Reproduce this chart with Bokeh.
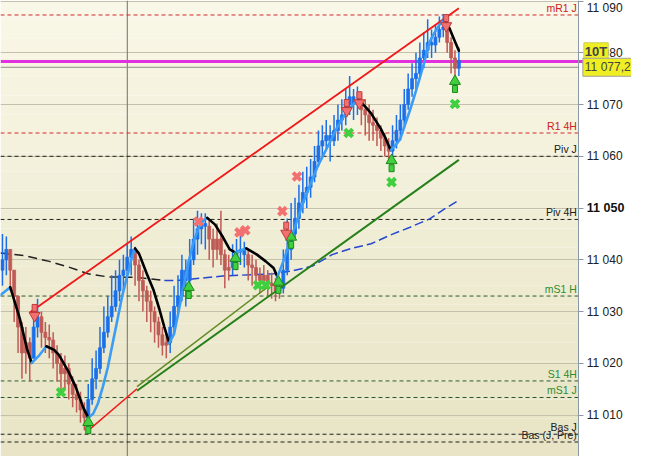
import numpy as np
from bokeh.plotting import figure
from bokeh.models import Range1d, FixedTicker, Label
from bokeh.core.properties import value
from bokeh.embed import file_html
from bokeh.resources import INLINE

BASE = 11000.0  # all price lists below are (price - 11000)

# ---- price bars (one per bar index) ----
HIGH = [45, 44.5, 42, 38, 33, 28, 27, 25, 31, 32.5,
        30, 28, 27.5, 26, 23.5, 22, 21.5, 20, 17.5, 16,
        14.5, 12.5, 16, 21, 22.5, 27, 31, 33, 37, 38,
        40, 41, 43, 44.5, 42.5, 40, 38, 35, 34, 31,
        29, 27, 26, 30, 35, 37, 41, 40, 44, 48,
        49.5, 49, 49, 48, 46, 47, 49.5, 42, 41, 43,
        44, 45, 43.5, 42, 41, 40, 38.5, 39, 38, 37.5,
        36.5, 36, 42, 48, 51, 52, 54.5, 57, 58, 59.5,
        62, 65, 66, 67, 66, 68, 70, 71, 73, 75.5,
        73, 73.5, 72, 71, 70, 69, 67.5, 66, 64.5, 63.5,
        66, 68, 70, 73, 76, 78, 80, 82, 84, 86.5,
        84.5, 85.5, 87, 87.5, 86.5, 83, 80.5, 81]
LOW = [35, 37, 34, 28, 22, 17, 18, 16.5, 21, 25,
       23, 22, 21, 19, 16.5, 14.5, 15, 13, 11.5, 10.5,
       8.5, 7, 8, 12, 15, 18, 22, 25, 28, 30,
       32, 34, 36, 37, 35, 32, 30, 28, 26, 24,
       23, 21.5, 21, 22, 26, 29, 32, 31, 35, 39,
       41, 43, 42, 40, 38.5, 40, 39, 34.5, 36, 37,
       38, 39, 38.5, 36, 35, 34.5, 33.5, 34, 33, 32.5,
       32, 32.5, 33.5, 37, 40, 44, 46, 49, 50, 52,
       55, 58, 60, 61, 59, 62, 63, 65, 66, 68,
       67, 68, 66, 64, 63, 63, 62, 61, 60, 59,
       60, 61.5, 63, 66, 69, 71.5, 73, 75, 77, 79,
       79, 80, 82, 83, 80, 76, 74.5, 75.5]
CLOSE = [40, 42, 38, 33, 27, 22, 24, 21, 27, 29,
         26, 25, 24.5, 22, 20, 18, 19, 16, 14, 13,
         11, 9.5, 13, 17, 19, 23, 26, 29, 31, 34,
         37, 38, 40.5, 42, 39, 36, 34, 32, 30, 28,
         25.5, 23.5, 24, 27, 31, 33, 38, 36, 40, 44,
         46, 47, 46.5, 44, 42, 44, 41, 38, 38.5, 40,
         41.5, 42, 41, 39, 38.5, 37, 36, 37, 35.5, 35,
         34, 34.5, 38, 42, 45, 48, 51, 53, 54, 56,
         59, 62, 63, 64, 63, 65, 67, 68, 70, 71.5,
         70, 71, 69, 68, 66.5, 66, 65, 63.5, 62, 61,
         63, 65, 67, 70, 73, 75, 76, 79, 80.5, 82,
         81.5, 83, 84.5, 85, 82, 79, 77, 78.5]
FIRST_OPEN = 38
LEG_DIRS = ["u", "d", "u", "d", "u", "d", "u", "d", "u", "d", "u", "d", "u", "d", "u"]
LEG_LENGTHS = [2, 6, 2, 12, 12, 9, 10, 6, 4, 9, 20, 8, 14, 3, 1]

# ---- trend moving average (black = down, light blue = up) ----
MA_X = [[-0.5, 2],
        [2, 4.5, 6.25, 7.5],
        [7.5, 9.5, 11.25],
        [11.25, 13.25, 14.5, 17, 18.75, 20.75, 22],
        [22, 23.25, 24.5, 25.75, 27, 28.25, 29.5, 30.75, 32, 33.25, 34],
        [34, 35, 37, 38.75, 40.25, 41.5, 42.75],
        [42.75, 44, 45.25, 46.5, 47.75, 49, 50.25, 51.5, 52.5],
        [52.5, 54.5, 56.5, 58.25, 59.75],
        [59.75, 61, 62.5],
        [62.5, 65.25, 67.5, 69.5, 70.5],
        [70.5, 72, 73.25, 74.5, 75.75, 77, 79, 80.75, 83.25, 85.75, 88.25, 90.75, 91.25],
        [91.25, 93, 94.5, 95.75, 97, 98.25, 99.5],
        [99.5, 100.75, 102, 103.25, 104.5, 105.75, 107, 108.25, 109.5, 110.75, 112, 113.25],
        [113.25, 114.5, 115.75, 117]]
MA_Y = [[33.2, 34.7],
        [34.7, 28.5, 22.9, 20.1],
        [20.1, 21.6, 23.3],
        [23.3, 22.6, 21.6, 18.3, 15.5, 11.4, 9.5],
        [9.5, 10.25, 12.3, 15.5, 19.2, 23.9, 28.5, 33.2, 36.9, 40.7, 42.2],
        [42.2, 41.2, 37.3, 34.1, 30.4, 27.0, 23.9],
        [23.9, 25.7, 30.4, 35.1, 39.7, 43.5, 46.1, 47.6, 48.1],
        [48.1, 46.8, 44.4, 42.0, 41.4],
        [41.4, 41.8, 42.2],
        [42.2, 41.0, 39.7, 38.4, 36.7],
        [36.7, 39.7, 42.5, 45.3, 48.1, 50.9, 54.7, 58.0, 61.7, 65.5, 68.6, 70.7, 70.9],
        [70.9, 69.6, 68.3, 66.8, 65.3, 63.4, 61.2],
        [61.2, 62.1, 63.4, 66.2, 69.0, 72.0, 75.2, 78.5, 82.1, 83.9, 85.4, 86.4],
        [86.4, 84.9, 82.6, 80.4]]
MA_KIND = ["u", "d", "u", "d", "u", "d", "u", "d", "u", "d", "u", "d", "u", "d"]

# ---- long moving average (dashed) ----
LMA_BLACK_X = [-0.5, 5.75, 12, 17, 22, 27, 34.5, 41.5]
LMA_BLACK_Y = [41.3, 40.8, 39.7, 38.6, 37.3, 36.7, 36.6, 36.0]
LMA_BLUE_X = [41.5, 44.5, 57, 69.5, 74.5, 79.5, 84.5, 89.5, 94.5, 99.5, 104.5, 109.5, 113.25, 117]
LMA_BLUE_Y = [36.0, 36.0, 36.9, 37.3, 37.9, 38.8, 41.0, 42.2, 43.1, 44.8, 46.3, 47.9, 49.8, 51.5]

# ---- trend lines ----
TL_RED_X, TL_RED_Y = [7, 117], [29.8, 88.6]
TL_RED2_X, TL_RED2_Y = [21.5, 34.5], [6.7, 15.1]
TL_OLIVE_X, TL_OLIVE_Y = [34.5, 68.25], [15.5, 34.9]
TL_GREEN_X, TL_GREEN_Y = [34.5, 117], [14.7, 59.3]

# ---- signals ----
BUY_ARROW_X = [22, 47.75, 59.75, 70.75, 74, 99.75, 116]
BUY_ARROW_Y = [7.8, 33.9, 39.5, 34.9, 43.6, 58.4, 73.7]
GREEN_X_X = [15, 65.5, 67.5, 88.75, 99.75, 116]
GREEN_X_Y = [14.4, 35.1, 35.1, 64.5, 55.0, 70.1]
RED_X_X = [50.25, 60.75, 62.25, 71.75, 75.5]
RED_X_Y = [47.4, 45.3, 45.7, 49.4, 56.1]
SELL_ARROW_X = [8.25, 72.75, 88.25, 91.5, 113.75]
SELL_ARROW_Y = [30.0, 45.9, 69.6, 71.1, 86.0]

# ---- levels ----
LEVEL_NAMES = ["mR1 J", "R1 4H", "Piv J", "Piv 4H", "mS1 H", "S1 4H", "mS1 J", "Bas J", "Bas (J, Pre)"]
LEVEL_VALUES = [87.3, 64.5, 60.0, 47.8, 33.0, 16.6, 13.4, 6.3, 4.8]
LEVEL_KIND = ["r", "r", "k", "k", "g", "g", "g", "k", "k"]
MAGENTA_LEVEL = 78.3
LAST_PRICE = 77.2
LAST_PRICE_TEXT = "11 077,2"
TIMEFRAME_TEXT = "10T"
TIMEFRAME_Y = 80.3
SESSION_BREAK_X = 32

TICKS = [11010, 11020, 11030, 11040, 11050, 11060, 11070, 11080, 11090]
TICK_LABELS = ["11 010", "11 020", "11 030", "11 040", "11 050", "11 060", "11 070", "11 080", "11 090"]
BOLD_TICK = 11050

# ================= drawing =================
FONT = "Liberation Sans"
W, H = 631, 456
X0, X1 = -0.5, 147.75               # price pane
AXIS_FRAC = 593.0 / 647.0           # price pane share of the width
X_END = X0 + (X1 - X0) / AXIS_FRAC  # includes the price-scale strip
Y0, Y1 = 11002.0, 11090.1

p = figure(width=W, height=H, x_range=Range1d(X0, X_END), y_range=Range1d(Y0, Y1),
           output_backend="svg", toolbar_location=None, x_axis_location=None,
           y_axis_location="right", min_border_left=0, min_border_top=0,
           min_border_bottom=0, min_border_right=0)
p.outline_line_color = None
p.border_fill_color = "white"
p.background_fill_color = "white"

# background gradient bands (style only)
nb = 24
edges = np.linspace(Y1, Y0, nb + 1)
c_top = np.array([0xFA, 0xF8, 0xE8])
c_bot = np.array([0xE8, 0xE4, 0xC5])
cols = []
for k in range(nb):
    t = (k + 0.5) / nb
    c = (c_top * (1 - t) + c_bot * t).astype(int)
    cols.append("#%02x%02x%02x" % tuple(c))
p.quad(left=X0, right=X1, top=edges[:-1], bottom=edges[1:], fill_color=cols,
       line_color=None, level="image")

p.xgrid.visible = False
p.ygrid.grid_line_color = "#c4c0aa"
p.ygrid.grid_line_width = 1

ax = p.yaxis[0]
ax.fixed_location = X1
ax.ticker = FixedTicker(ticks=TICKS)
ax.major_label_overrides = {t: ("" if t == BOLD_TICK else l) for t, l in zip(TICKS, TICK_LABELS)}
ax.axis_line_color = "#8a98a8"
ax.major_tick_line_color = "#8a98a8"
ax.major_tick_out = 5
ax.major_tick_in = 0
ax.minor_tick_line_color = None
ax.major_label_text_font = FONT
ax.major_label_text_font_size = "12px"
ax.major_label_text_color = "#202020"
ax.major_label_standoff = 3

# session separator
p.segment(x0=[SESSION_BREAK_X], y0=[Y0], x1=[SESSION_BREAK_X], y1=[Y1], line_color="#707070", line_width=1)

# levels
lvl_line = {"r": "#d02828", "k": "#202020", "g": "#2a5a2a"}
lvl_text = {"r": "#d02020", "k": "#202020", "g": "#2e8b2e"}
p.segment(x0=[X0] * len(LEVEL_VALUES), x1=[X1] * len(LEVEL_VALUES),
          y0=[BASE + v for v in LEVEL_VALUES], y1=[BASE + v for v in LEVEL_VALUES],
          line_color=[lvl_line[k] for k in LEVEL_KIND], line_width=1, line_dash="4 3")
p.text(x=[X1] * len(LEVEL_NAMES), y=[BASE + v for v in LEVEL_VALUES], text=LEVEL_NAMES,
       text_color=[lvl_text[k] for k in LEVEL_KIND], text_align="right", text_baseline="bottom",
       x_offset=-2, y_offset=-1, text_font=value(FONT), text_font_size="10.5px")

# white price-scale strip covers the grid there
p.quad(left=[X1], right=[X_END], bottom=[Y0], top=[Y1], fill_color="white", line_color=None)

p.segment(x0=[X0], x1=[X1], y0=[BASE + LAST_PRICE], y1=[BASE + LAST_PRICE],
          line_color="#8c8c8c", line_width=1)
p.segment(x0=[X0], x1=[X1 + 1.2], y0=[BASE + MAGENTA_LEVEL], y1=[BASE + MAGENTA_LEVEL],
          line_color="#e030e0", line_width=3)

# long MA
p.line(LMA_BLACK_X, [BASE + y for y in LMA_BLACK_Y], line_color="#202020",
       line_width=1.5, line_dash="9 5")
p.line(LMA_BLUE_X, [BASE + y for y in LMA_BLUE_Y], line_color="#2446d0", line_width=1.5, line_dash="9 4")

# bars
dirs = []
for d, n in zip(LEG_DIRS, LEG_LENGTHS):
    dirs += [d] * n
xs = np.arange(len(CLOSE))
opens = [FIRST_OPEN] + CLOSE[:-1]
bcol = ["#1b70ea" if d == "u" else "#bf5a55" for d in dirs]
p.segment(x0=xs, y0=[BASE + v for v in LOW], x1=xs, y1=[BASE + v for v in HIGH],
          line_color=bcol, line_width=1.5)
p.vbar(x=xs, bottom=[BASE + min(o, c) for o, c in zip(opens, CLOSE)],
       top=[BASE + max(o, c) for o, c in zip(opens, CLOSE)], width=0.75,
       fill_color=bcol, line_color=bcol, line_width=0.8)

# trend lines
p.line(TL_RED_X, [BASE + y for y in TL_RED_Y], line_color="#f01818", line_width=1.8)
p.line(TL_RED2_X, [BASE + y for y in TL_RED2_Y], line_color="#f01818", line_width=1.5)
p.line(TL_OLIVE_X, [BASE + y for y in TL_OLIVE_Y], line_color="#5f8a22", line_width=1.5)
p.line(TL_GREEN_X, [BASE + y for y in TL_GREEN_Y], line_color="#25801a", line_width=2)

# trend MA
p.multi_line(xs=MA_X, ys=[[BASE + y for y in seg] for seg in MA_Y],
             line_color=["#3a9cf5" if k == "u" else "#000000" for k in MA_KIND],
             line_width=2.6, line_join="round", line_cap="round")

# signals
g_fill, g_line = "#3fcf3f", "#1c8a1c"
r_fill, r_line = "#f27070", "#c03a3a"
p.scatter(GREEN_X_X, [BASE + y for y in GREEN_X_Y], marker="x", size=11,
          line_color=g_fill, line_width=4)
p.scatter(RED_X_X, [BASE + y for y in RED_X_Y], marker="x", size=11, line_color=r_fill, line_width=4)
p.rect(x=BUY_ARROW_X, y=[BASE + y - 0.7 for y in BUY_ARROW_Y], width=5, height=7,
       width_units="screen", height_units="screen", fill_color=g_fill, line_color=g_line)
p.scatter(BUY_ARROW_X, [BASE + y + 0.8 for y in BUY_ARROW_Y], marker="triangle", size=11,
          fill_color=g_fill, line_color=g_line)
p.rect(x=SELL_ARROW_X, y=[BASE + y + 0.7 for y in SELL_ARROW_Y], width=5, height=7,
       width_units="screen", height_units="screen", fill_color=r_fill, line_color=r_line)
p.scatter(SELL_ARROW_X, [BASE + y - 0.8 for y in SELL_ARROW_Y], marker="inverted_triangle", size=11,
          fill_color=r_fill, line_color=r_line)

# axis extras
p.add_layout(Label(x=X1, y=BOLD_TICK, x_offset=8, text=TICK_LABELS[TICKS.index(BOLD_TICK)],
                   text_font=FONT, text_font_size="12.5px", text_font_style="bold",
                   text_baseline="middle", text_color="#101010"))
p.add_layout(Label(x=X1, y=BASE + TIMEFRAME_Y, x_offset=5, text=TIMEFRAME_TEXT,
                   text_font=FONT, text_font_size="13px", text_font_style="bold",
                   text_baseline="middle", background_fill_color="#eeee22",
                   border_line_color="#d0d060", padding=1))
p.add_layout(Label(x=X1, y=BASE + LAST_PRICE, x_offset=4, text=LAST_PRICE_TEXT,
                   text_font=FONT, text_font_size="12px", text_baseline="middle",
                   background_fill_color="#eeee22", border_line_color="#a0a0a0", padding=2))

open("out.html", "w").write(file_html(p, INLINE))
